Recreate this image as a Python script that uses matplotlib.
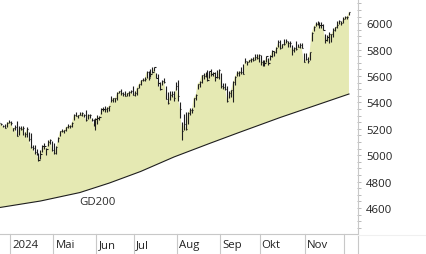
import numpy as np
import matplotlib
matplotlib.use("Agg")
import matplotlib.pyplot as plt
import matplotlib.transforms as mtransforms
from matplotlib.ticker import MultipleLocator
from matplotlib.lines import Line2D

plt.rcParams['font.family'] = ['Open Sans', 'DejaVu Sans']

## daily bars, trading day index (0 = first day of April), first bar = Mar 21
first_idx = -6
close = [
    5241, 5234, 5218, 5203, 5248, 5254,
    # Apr
    5243, 5205, 5211, 5147, 5204, 5202, 5209, 5160, 5199, 5123, 5061, 5051, 5022, 5011, 4967,
    5010, 5070, 5071, 5048, 5100, 5116, 5036,
    # Mai
    5018, 5064, 5128, 5181, 5187, 5188, 5214, 5223, 5221, 5247, 5308, 5297, 5303, 5308, 5321,
    5307, 5268, 5305, 5306, 5267, 5235, 5278,
    # Jun
    5283, 5291, 5354, 5352, 5347, 5361, 5375, 5421, 5434, 5431, 5473, 5487, 5473, 5465, 5448,
    5469, 5478, 5483, 5460,
    # Jul
    5475, 5509, 5537, 5567, 5572, 5577, 5633, 5585, 5615, 5631, 5667, 5589, 5545, 5505, 5564,
    5555, 5427, 5399, 5459, 5464, 5436, 5522,
    # Aug
    5446, 5347, 5186, 5240, 5199, 5319, 5344, 5344, 5434, 5455, 5543, 5554, 5608, 5597, 5620,
    5571, 5635, 5616, 5625, 5592, 5592, 5648,
    # Sep
    5528, 5520, 5503, 5408, 5471, 5496, 5554, 5596, 5626, 5634, 5634, 5618, 5714, 5703, 5719,
    5732, 5722, 5745, 5738, 5762,
    # Okt
    5709, 5710, 5699, 5751, 5696, 5751, 5792, 5780, 5815, 5859, 5815, 5843, 5841, 5865, 5853,
    5851, 5797, 5809, 5808, 5823, 5832, 5813, 5705,
    # Nov
    5729, 5712, 5782, 5929, 5973, 5996, 6001, 5984, 5985, 5949, 5871, 5894, 5917, 5917, 5948,
    5969, 5988, 6021, 5999, 6032,
    # Dez
    6047, 6050, 6086,
]
high = [
    5261, 5246, 5229, 5236, 5249, 5264,
    5263, 5209, 5228, 5256, 5222, 5219, 5225, 5178, 5211, 5175, 5168, 5077, 5077, 5047, 5019,
    5038, 5077, 5089, 5057, 5114, 5124, 5110,
    5096, 5073, 5139, 5181, 5200, 5191, 5215, 5239, 5230, 5250, 5311, 5325, 5305, 5325, 5324,
    5315, 5341, 5311, 5315, 5282, 5272, 5280,
    5302, 5298, 5355, 5362, 5376, 5365, 5376, 5447, 5436, 5432, 5477, 5490, 5505, 5478, 5490,
    5472, 5483, 5496, 5524,
    5490, 5510, 5539, 5570, 5583, 5590, 5635, 5642, 5656, 5670, 5669, 5622, 5614, 5557, 5568,
    5585, 5523, 5479, 5488, 5487, 5487, 5552,
    5567, 5406, 5250, 5312, 5331, 5328, 5357, 5360, 5436, 5463, 5543, 5561, 5608, 5620, 5632,
    5643, 5641, 5651, 5628, 5627, 5647, 5651,
    5623, 5551, 5547, 5522, 5484, 5497, 5560, 5600, 5636, 5638, 5670, 5689, 5734, 5716, 5725,
    5736, 5741, 5767, 5764, 5765,
    5757, 5720, 5718, 5753, 5739, 5756, 5796, 5790, 5823, 5871, 5870, 5843, 5879, 5878, 5867,
    5863, 5834, 5817, 5862, 5843, 5848, 5851, 5776,
    5772, 5741, 5783, 5936, 5983, 6012, 6018, 6010, 6008, 5993, 5915, 5908, 5932, 5921, 5964,
    5973, 6021, 6025, 6020, 6045,
    6053, 6052, 6089,
]
low = [
    5240, 5229, 5216, 5203, 5213, 5247,
    5229, 5184, 5194, 5146, 5157, 5191, 5157, 5138, 5138, 5107, 5053, 5039, 5007, 5002, 4953,
    4969, 5028, 5047, 5002, 5073, 5085, 5035,
    5013, 5011, 5101, 5142, 5178, 5165, 5183, 5210, 5205, 5217, 5264, 5296, 5284, 5303, 5297,
    5286, 5257, 5278, 5279, 5263, 5223, 5191,
    5234, 5264, 5309, 5335, 5331, 5331, 5335, 5405, 5403, 5404, 5421, 5471, 5456, 5452, 5447,
    5446, 5451, 5471, 5460,
    5451, 5453, 5509, 5531, 5562, 5562, 5587, 5567, 5590, 5621, 5640, 5584, 5522, 5497, 5531,
    5550, 5426, 5390, 5420, 5444, 5409, 5491,
    5410, 5282, 5119, 5193, 5192, 5234, 5307, 5318, 5364, 5419, 5502, 5518, 5550, 5580, 5591,
    5561, 5585, 5603, 5598, 5561, 5585, 5581,
    5513, 5505, 5491, 5402, 5434, 5441, 5406, 5535, 5600, 5601, 5614, 5615, 5698, 5683, 5704,
    5704, 5712, 5721, 5727, 5703,
    5681, 5674, 5677, 5704, 5683, 5718, 5745, 5754, 5772, 5818, 5804, 5815, 5836, 5853, 5824,
    5820, 5762, 5784, 5799, 5817, 5811, 5810, 5703,
    5724, 5697, 5722, 5865, 5943, 5977, 5986, 5966, 5965, 5946, 5853, 5865, 5853, 5860, 5897,
    5944, 5964, 5993, 5985, 6003,
    6031, 6034, 6062,
]

## GD200
gd_idx = [-6, 15, 35, 50, 66, 83, 101, 116, 137, 172]
gd_val = [4603, 4653, 4717, 4789, 4877, 4987, 5089, 5172, 5286, 5464]

## month axis
month_start = [0, 22, 44, 63, 85, 107, 127, 150, 170]
month_label = ["2024", "Mai", "Jun", "Jul", "Aug", "Sep", "Okt", "Nov", ""]

x = np.arange(len(close)) + first_idx

W, H = 426, 255
fig = plt.figure(figsize=(W / 100, H / 100), dpi=100)
ax = fig.add_axes([0, 20 / H, 357 / W, 235 / H])

px_day = 1.965
ax.set_xlim(-0.5 - 10 / px_day, -0.5 + 347 / px_day)
ax.set_ylim(4403, 6184)

# area between price and GD200
ax.fill(np.r_[x, np.array(gd_idx)[::-1]], np.r_[close, np.array(gd_val)[::-1]],
        color='#e5e9b3', lw=0, zorder=1)

# bars
ax.vlines(x, low, high, colors='#1e1e1e', lw=0.8, zorder=3)
ax.hlines(close, x, x + 0.6, colors='#1e1e1e', lw=0.8, zorder=3)

# GD200
ax.plot(gd_idx, gd_val, color='#1e1e1e', lw=0.8, zorder=2)
ax.text(34.5, 4648, "GD200", fontsize=8.2, color='#2b2b2b', va='center', ha='left')

# y axis on the right
ax.yaxis.tick_right()
ax.set_yticks(range(4600, 6001, 200))
ax.yaxis.set_minor_locator(MultipleLocator(50))
ax.tick_params(axis='y', which='both', direction='out', length=3, width=0.7,
               color='#b9b9b9', pad=3.5, labelsize=8.2, labelcolor='#222222')
ax.set_xticks([])
for s in ['left', 'top', 'right']:
    ax.spines[s].set_visible(False)
ax.spines['bottom'].set_color('#c8c8c8')
ax.spines['bottom'].set_linewidth(0.8)

# right axis line over full height, faint line under labels
fig.add_artist(Line2D([357.5 / W, 357.5 / W], [0, 1], color='#c8c8c8', lw=0.8))
fig.add_artist(Line2D([358 / W, 1], [19.5 / H, 19.5 / H], color='#f0f0f0', lw=0.8))

# month separators and labels
trans = mtransforms.blended_transform_factory(ax.transData, ax.transAxes)
for b, lab in zip(month_start, month_label):
    ax.plot([b - 0.5, b - 0.5], [0, -20 / 235], transform=trans, color='#c8c8c8',
            lw=0.8, clip_on=False)
    ax.text(b + 0.6, -10.5 / 235, lab, transform=trans, fontsize=8.2, color='#222222',
            ha='left', va='center')

fig.savefig("out.png", dpi=100)
